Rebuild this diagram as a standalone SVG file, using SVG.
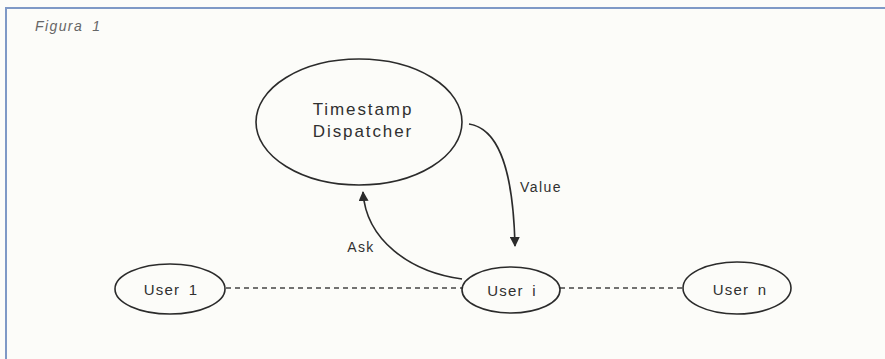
<svg xmlns="http://www.w3.org/2000/svg" width="885" height="359" viewBox="0 0 885 359">
  <style>
    .node { fill: none; stroke: #2b2b2b; stroke-width: 1.6; }
    .label { font-family: "Liberation Sans", Arial, sans-serif; fill: #303030; text-anchor: middle; }
    .big { font-size: 17px; letter-spacing: 1.9px; }
    .user { font-size: 15px; letter-spacing: 1.2px; word-spacing: 3px; }
    .edge { font-size: 14px; letter-spacing: 1.4px; }
    .link { fill: none; stroke: #2b2b2b; stroke-width: 1.6; }
    .dash { fill: none; stroke: #444; stroke-width: 1.3; stroke-dasharray: 5 4; }
  </style>
  <defs>
    <marker id="head" viewBox="0 0 10 10" refX="9" refY="5" markerWidth="10" markerHeight="10" markerUnits="userSpaceOnUse" orient="auto">
      <path d="M0,0 L10,5 L0,10 z" fill="#2b2b2b"/>
    </marker>
  </defs>

  <!-- page background and frame -->
  <rect x="0" y="0" width="885" height="359" fill="#fcfcf9"/>
  <path d="M6,359 L6,8 L885,8" fill="none" stroke="#7f99c6" stroke-width="2"/>
  <text x="35" y="31" font-family="'Liberation Sans', Arial, sans-serif" font-size="14" font-style="italic" letter-spacing="1.4" word-spacing="4" fill="#666">Figura 1</text>

  <!-- connectors -->
  <g id="connectors">
    <line class="dash" x1="226" y1="288" x2="462" y2="288"/>
    <line class="dash" x1="560" y1="288" x2="683" y2="288"/>
    <path class="link" d="M469,124 C495,128 513,160 515,246" marker-end="url(#head)"/>
    <path class="link" d="M462,279 C410,272 366,240 363,192" marker-end="url(#head)"/>
    <text class="label edge" x="541" y="192">Value</text>
    <text class="label edge" x="361" y="252">Ask</text>
  </g>

  <g id="dispatcher">
    <ellipse class="node" cx="359" cy="122" rx="103" ry="63"/>
    <text class="label big" x="363" y="115">Timestamp</text>
    <text class="label big" x="363" y="137">Dispatcher</text>
  </g>

  <g id="user1">
    <ellipse class="node" cx="170" cy="289" rx="55" ry="25"/>
    <text class="label user" x="171" y="295">User 1</text>
  </g>

  <g id="useri">
    <ellipse class="node" cx="511" cy="290" rx="49" ry="23"/>
    <text class="label user" x="512" y="296">User i</text>
  </g>

  <g id="usern">
    <ellipse class="node" cx="737" cy="288" rx="54" ry="26"/>
    <text class="label user" x="740" y="295">User n</text>
  </g>
</svg>
